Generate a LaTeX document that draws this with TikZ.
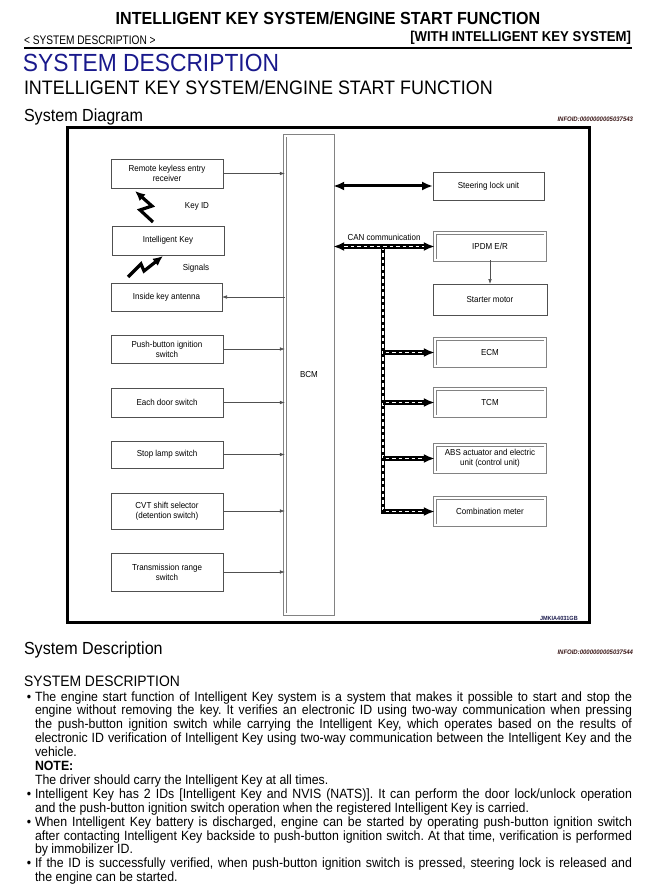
\documentclass[tikz,border=0pt]{standalone}
\usepackage{fontspec}
\setmainfont{Liberation Sans}[FakeStretch=0.92]
\newfontfamily\narrowfont{Liberation Sans}[FakeStretch=0.82]
\usetikzlibrary{arrows.meta}
\definecolor{hblue}{RGB}{25,25,140}
\definecolor{bgray}{RGB}{80,80,80}
\definecolor{dgray}{RGB}{130,130,130}
\definecolor{infored}{RGB}{60,25,25}
\newcommand{\myfs}[1]{\fontsize{#1}{#1}\selectfont}
\newcommand{\bodyfont}{\fontsize{13.4}{13.9}\selectfont}
\newcommand{\dfont}{\fontsize{8.7}{10}\selectfont}
\newcommand{\jl}[1]{\makebox[597pt][s]{#1}}
\frenchspacing
\begin{document}
\begin{tikzpicture}[x=1pt,y=-1pt,
  txt/.style={inner sep=0pt, outer sep=0pt},
  body/.style={inner sep=0pt, outer sep=0pt, anchor=base west, font=\bodyfont},
  box/.style={draw=bgray, line width=0.8pt, fill=white, minimum width=112pt, minimum height=29pt, inner sep=1pt, outer sep=0pt, align=center, font=\dfont},
  dbox/.style={draw=dgray, double=white, double distance=1.8pt, line width=0.8pt, minimum width=110.4pt, minimum height=27.4pt, inner sep=1pt, outer sep=0pt, align=center, font=\dfont},
  thin/.style={draw=bgray, line width=0.6pt, -{Latex[length=5pt,width=3.6pt]}},
  thickarr/.style={line width=3pt, {Latex[length=11pt,width=9pt]}-{Latex[length=11pt,width=9pt]}},
  canbase/.style={line width=4.5pt, black},
  candash/.style={line width=1.5pt, white, dash pattern=on 3.5pt off 3pt},
  canhead/.style={-{Latex[length=11pt,width=9pt]}},
  bolt/.style={line width=3.2pt, black, line join=miter}
]
\useasboundingbox (0,0) rectangle (654,896);
\fill[white] (0,0) rectangle (654,896);

% ---------- header ----------
\node[txt, anchor=base, font=\myfs{17.5}\bfseries] (title) at (328,25) {INTELLIGENT KEY SYSTEM/ENGINE START FUNCTION};
\node[txt, anchor=base west, font=\narrowfont\myfs{12.4}] (sub) at (24,45) {< SYSTEM DESCRIPTION >};
\node[txt, anchor=base east, font=\myfs{14.3}\bfseries] (brk) at (631,42) {[WITH INTELLIGENT KEY SYSTEM]};
\draw[line width=2pt] (24,48) -- (632,48);
\node[txt, anchor=base west, font=\myfs{24.8}, text=hblue] (blue) at (23,72) {SYSTEM DESCRIPTION};
\node[txt, anchor=base west, font=\myfs{19.5}] (h2) at (24,95) {INTELLIGENT KEY SYSTEM/ENGINE START FUNCTION};
\node[txt, anchor=base west, font=\myfs{17.5}] (sysdiag) at (24,122) {System Diagram};
\node[txt, anchor=base east, font=\myfs{6.5}\bfseries\itshape, text=infored] (info1) at (633,122) {INFOID:0000000005037543};

% ---------- diagram frame ----------
\draw[line width=3pt] (67,128) rectangle (589,622);
\node[txt, anchor=base west, font=\myfs{6}\bfseries, text={rgb,255:red,30;green,30;blue,80}] (jmk) at (540,620) {JMKIA4031GB};

% BCM
\node[dbox, minimum width=48.4pt, minimum height=478.4pt] (bcm) at (309,375) {BCM};

% left boxes
\node[box] (rke) at (167,173.5) {Remote keyless entry\\receiver};
\node[box] (ikey) at (168,240.5) {Intelligent Key};
\node[box, minimum width=111pt, minimum height=28pt] (ant) at (166.5,297) {Inside key antenna};
\node[box, minimum height=28pt] (push) at (167,349) {Push-button ignition\\switch};
\node[box] (door) at (167,402.5) {Each door switch};
\node[box, minimum height=27pt] (stop) at (167,454.5) {Stop lamp switch};
\node[box, minimum height=36pt] (cvt) at (167,511) {CVT shift selector\\(detention switch)};
\node[box, minimum height=38pt] (trs) at (167,572) {Transmission range\\switch};

% labels of wireless links
\node[txt, font=\dfont] (keyid) at (197,206) {Key ID};
\node[txt, font=\dfont] (sig) at (196,268) {Signals};

% lightning bolts
\coordinate (ba1) at (135,191);
\coordinate (ba2) at (152,206);
\coordinate (ba3) at (140,210);
\coordinate (ba4) at (153,222);
\draw[bolt, {Latex[length=10pt,width=9pt]}-] (ba1) -- (ba2) -- (ba3) -- (ba4);
\coordinate (bb1) at (128,277);
\coordinate (bb2) at (141,264);
\coordinate (bb3) at (144,271);
\coordinate (bb4) at (163,256);
\draw[bolt, -{Latex[length=10pt,width=9pt]}] (bb1) -- (bb2) -- (bb3) -- (bb4);

% left connectors
\draw[thin] (rke.east) -- (rke.east -| bcm.west);
\draw[thin] (ant.east -| bcm.west) -- (ant.east);
\draw[thin] (push.east) -- (push.east -| bcm.west);
\draw[thin] (door.east) -- (door.east -| bcm.west);
\draw[thin] (stop.east) -- (stop.east -| bcm.west);
\draw[thin] (cvt.east) -- (cvt.east -| bcm.west);
\draw[thin] (trs.east) -- (trs.east -| bcm.west);

% right boxes
\node[box, minimum width=111pt, minimum height=28pt] (steer) at (488.5,186) {Steering lock unit};
\node[dbox] (ipdm) at (490,246.5) {IPDM E/R};
\node[box, minimum width=114pt, minimum height=31pt] (starter) at (490,299.5) {Starter motor};
\node[dbox] (ecm) at (490,352.5) {ECM};
\node[dbox] (tcm) at (490,402.5) {TCM};
\node[dbox] (abs) at (490,458.5) {ABS actuator and electric\\unit (control unit)};
\node[dbox] (comb) at (490,511.5) {Combination meter};

% steering lock
\draw[thickarr] (steer.west -| bcm.east) -- (steer.west);
% starter
\draw[thin] (ipdm.south) -- (starter.north);

% CAN communication
\node[txt, font=\dfont] (canlbl) at (384,237) {CAN communication};
\coordinate (cantop) at (383,246.5);
\coordinate (canbot) at (383,511.5);
\draw[canbase, line cap=rect] (cantop) -- (canbot);
\draw[candash] (cantop) -- (canbot);
\draw[canbase, {Latex[length=11pt,width=9pt]}-{Latex[length=11pt,width=9pt]}] (ipdm.west -| bcm.east) -- (ipdm.west);
\draw[candash, shorten <=11pt, shorten >=11pt] (ipdm.west -| bcm.east) -- (ipdm.west);
\foreach \b in {ecm,tcm,abs,comb}{
  \draw[canbase, canhead] (\b.west -| cantop) -- (\b.west);
  \draw[candash, shorten <=2.5pt, shorten >=11pt] (\b.west -| cantop) -- (\b.west);
}

% ---------- description ----------
\node[txt, anchor=base west, font=\myfs{17.5}] (sysdesc) at (24,654) {System Description};
\node[txt, anchor=base east, font=\myfs{6.5}\bfseries\itshape, text=infored] (info2) at (633,654) {INFOID:0000000005037544};
\node[txt, anchor=base west, font=\myfs{15.1}] (sdcaps) at (24,686) {SYSTEM DESCRIPTION};

\node[body] (bu1) at (27,701) {•};
\node[body] (l1) at (35,701) {\jl{The engine start function of Intelligent Key system is a system that makes it possible to start and stop the}};
\node[body] (l2) at (35,714.9) {\jl{engine without removing the key. It verifies an electronic ID using two-way communication when pressing}};
\node[body] (l3) at (35,728.8) {\jl{the push-button ignition switch while carrying the Intelligent Key, which operates based on the results of}};
\node[body] (l4) at (35,742.7) {\jl{electronic ID verification of Intelligent Key using two-way communication between the Intelligent Key and the}};
\node[body] (l5) at (35,756.6) {vehicle.};
\node[body, font=\bodyfont\bfseries] (l6) at (35,770.5) {NOTE:};
\node[body] (l7) at (35,784.4) {The driver should carry the Intelligent Key at all times.};
\node[body] (bu2) at (27,798.3) {•};
\node[body] (l8) at (35,798.3) {\jl{Intelligent Key has 2 IDs [Intelligent Key and NVIS (NATS)]. It can perform the door lock/unlock operation}};
\node[body] (l9) at (35,812.2) {and the push-button ignition switch operation when the registered Intelligent Key is carried.};
\node[body] (bu3) at (27,826.1) {•};
\node[body] (l10) at (35,826.1) {\jl{When Intelligent Key battery is discharged, engine can be started by operating push-button ignition switch}};
\node[body] (l11) at (35,840) {\jl{after contacting Intelligent Key backside to push-button ignition switch. At that time, verification is performed}};
\node[body] (l12) at (35,853.9) {by immobilizer ID.};
\node[body] (bu4) at (27,867.8) {•};
\node[body] (l13) at (35,867.8) {\jl{If the ID is successfully verified, when push-button ignition switch is pressed, steering lock is released and}};
\node[body] (l14) at (35,881.7) {the engine can be started.};
\end{tikzpicture}
\end{document}
